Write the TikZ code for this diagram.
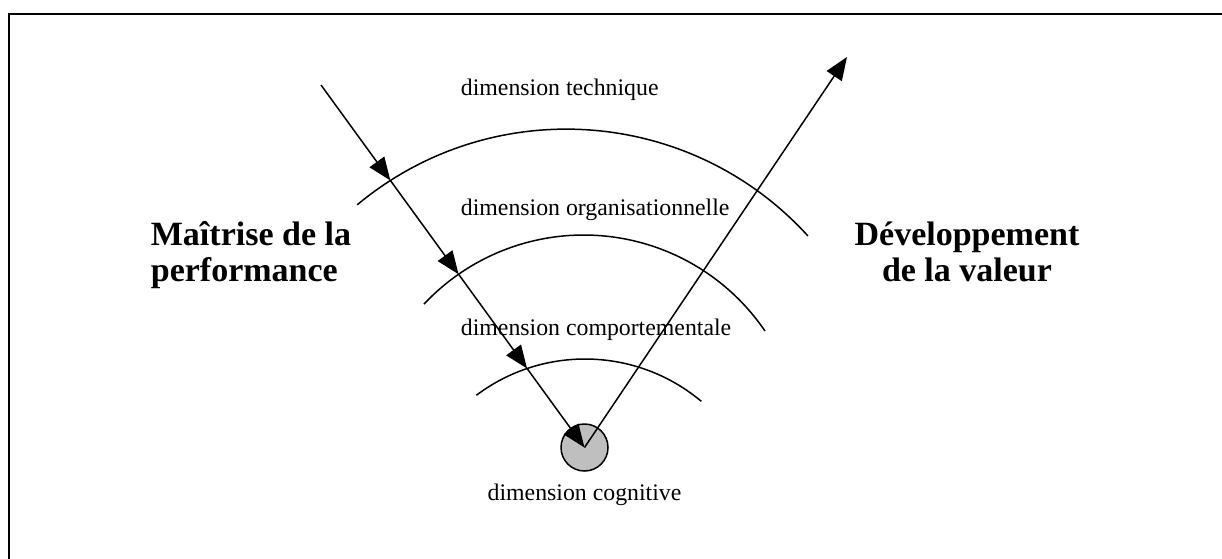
\documentclass[tikz,border=0pt]{standalone}
\usepackage{fontspec}
\setmainfont{Liberation Serif}
\usetikzlibrary{arrows.meta,intersections,positioning}

\begin{document}
\begin{tikzpicture}[
  x=1pt,y=-1pt,
  >={Triangle[length=23pt,width=18pt]},
  dim arc/.style={line width=1.5pt},
  flow/.style={line width=1.5pt,->},
  core/.style={circle,draw,line width=1.5pt,fill=black!25,minimum size=47pt,inner sep=0pt},
  dim label/.style={anchor=base west,inner sep=0pt,font=\fontsize{23.8}{28}\selectfont},
  pole label/.style={inner sep=0pt,font=\fontsize{34}{36}\selectfont\bfseries}]
  % T-technique O-organisationnelle C-comportementale G-cognitive
  \clip (0,0) rectangle (1222,558);
  \draw[line width=2pt] (8.5,13.5) rectangle (1240,580);
  \node [core] (core) at (584.5,447.5) {};
  \coordinate (perfIn) at (321,85);
  \coordinate (valOut) at (847,57);
  \draw[dim arc,name path=arcT] (566.3,455.8) ++(-129.8:326.7)
    arc[start angle=-129.8,end angle=-42.3,radius=326.7];
  \draw[dim arc,name path=arcO] (583.7,454.2) ++(-136.8:219.2)
    arc[start angle=-136.8,end angle=-34.2,radius=219.2];
  \draw[dim arc,name path=arcC] (585,540) ++(-126.9:181)
    arc[start angle=-126.9,end angle=-50,radius=181];
  \path[name path=lineIn] (perfIn) -- (core.center);
  \path[name intersections={of=lineIn and arcT,by=xT}];
  \path[name intersections={of=lineIn and arcO,by=xO}];
  \path[name intersections={of=lineIn and arcC,by=xC}];
  \draw[flow] (perfIn) -- (xT);
  \draw[flow] (xT) -- (xO);
  \draw[flow] (xO) -- (xC);
  \draw[flow] (xC) -- (core.center);
  \draw[flow] (core.center) -- (valOut);
  \node[dim label] (dimT) at (460.7,95) {dimension technique};
  \node[dim label] (dimO) at (460.7,215) {dimension organisationnelle};
  \node[dim label] (dimC) at (460.7,335) {dimension comportementale};
  \node[dim label] (dimG) [below=12pt of core] {dimension cognitive};
  \node[pole label,align=left,anchor=base west] (perf) at (150.7,281.5)
    {Maîtrise de la\\performance};
  \node[pole label,align=center,anchor=base] (val) at (967,281.5)
    {Développement\\de la valeur};
\end{tikzpicture}
\end{document}
